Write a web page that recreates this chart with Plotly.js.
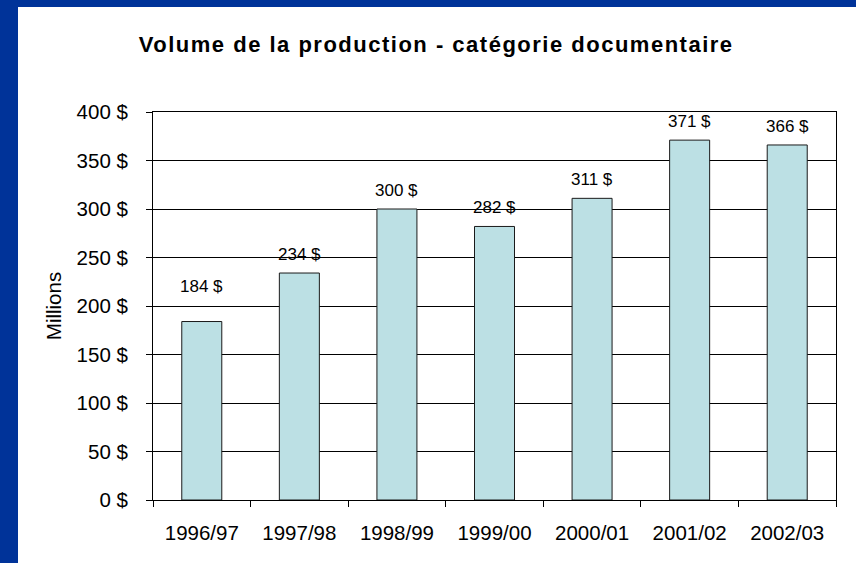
<!DOCTYPE html>
<html>
<head>
<meta charset="utf-8">
<script src="https://cdn.plot.ly/plotly-3.0.1.min.js"></script>
<style>
  html, body { margin: 0; padding: 0; background: #003399; width: 856px; height: 563px; overflow: hidden; }
  #chart { position: absolute; left: 18px; top: 7px; width: 838px; height: 556px; background: #ffffff; }
  #chart .gtitle { letter-spacing: 1.5px; }
</style>
</head>
<body>
<div id="chart"></div>
<script>
const categories = ["1996/97", "1997/98", "1998/99", "1999/00", "2000/01", "2001/02", "2002/03"];
const values = [184, 234, 300, 282, 311, 371, 366];
const valueLabels = ["184 $", "234 $", "300 $", "282 $", "311 $", "371 $", "366 $"];
const yTickValues = [0, 50, 100, 150, 200, 250, 300, 350, 400];
const yTickLabels = ["0 $", "50 $", "100 $", "150 $", "200 $", "250 $", "300 $", "350 $", "400 $"];

const FONT = "Liberation Sans, Arial, sans-serif";

const trace = {
  type: "bar",
  x: categories,
  y: values,
  marker: { color: "#BCE0E4", line: { color: "#1a1a1a", width: 1 } },
  hoverinfo: "skip"
};

const annotations = categories.map((c, i) => ({
  x: c, y: values[i], xref: "x", yref: "y",
  text: valueLabels[i], showarrow: false,
  yanchor: "bottom", yshift: i === 0 ? 24 : 7,
  font: { family: FONT, size: 17, color: "#000000" }
}));

const layout = {
  width: 838, height: 556,
  paper_bgcolor: "#ffffff", plot_bgcolor: "#ffffff",
  margin: { l: 135, r: 20, t: 105, b: 63 },
  bargap: 0.59,
  showlegend: false,
  font: { family: FONT, size: 20, color: "#000000" },
  title: {
    text: "<b>Volume de la production - catégorie documentaire</b>",
    font: { family: FONT, size: 22, color: "#000000" },
    xref: "container", x: 0.499, xanchor: "center",
    yref: "container", y: 0.9326, yanchor: "middle"
  },
  xaxis: {
    type: "category",
    showline: true, linecolor: "#000000", linewidth: 1, mirror: true,
    showgrid: false, zeroline: false,
    ticks: "outside", tickson: "boundaries", ticklen: 6, tickcolor: "#000000", tickwidth: 1,
    tickfont: { family: FONT, size: 20.5, color: "#000000" },
    ticklabelstandoff: 14,
    fixedrange: true
  },
  yaxis: {
    range: [0, 400],
    tickvals: yTickValues, ticktext: yTickLabels,
    showline: true, linecolor: "#000000", linewidth: 1, mirror: true,
    showgrid: true, gridcolor: "#000000", gridwidth: 1, zeroline: false,
    ticks: "outside", ticklen: 6, tickcolor: "#000000", tickwidth: 1,
    tickfont: { family: FONT, size: 20.5, color: "#000000" },
    ticklabelstandoff: 14,
    title: { text: "Millions", font: { family: FONT, size: 20.5, color: "#000000" }, standoff: 9 },
    automargin: false,
    fixedrange: true
  },
  annotations: annotations
};

Plotly.newPlot("chart", [trace], layout, { displayModeBar: false, staticPlot: true });
</script>
</body>
</html>
